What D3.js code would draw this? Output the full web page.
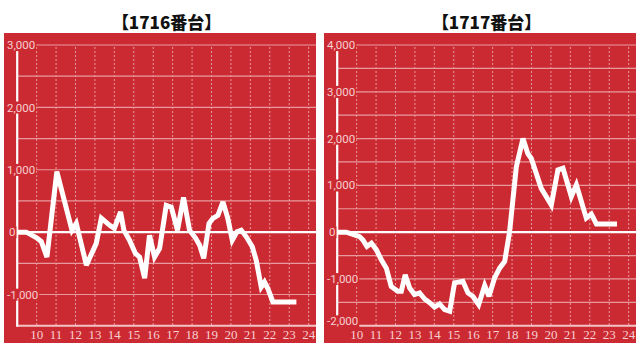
<!DOCTYPE html>
<html><head><meta charset="utf-8">
<script src="https://cdn.jsdelivr.net/npm/d3@7"></script>
<style>
html,body{margin:0;padding:0;background:#fff;}
svg{display:block;}
</style></head>
<body>
<svg id="c" width="640" height="352"></svg>
<script>
// ---- data ----
const xTickHours = [10,11,12,13,14,15,16,17,18,19,20,21,22,23,24];

const titles = ["【1716番台】", "【1717番台】"];

const times1716 = [9.0,9.47,10.0,10.24,10.53,11.04,11.82,12.04,12.56,13.07,13.33,13.76,14.0,14.32,14.49,14.78,15.08,15.3,15.56,15.81,16.07,16.33,16.67,16.93,17.25,17.56,17.87,18.18,18.39,18.6,18.87,19.07,19.33,19.59,19.84,20.07,20.31,20.53,20.79,21.1,21.3,21.56,21.73,21.9,22.16,23.37];
const values1716 = [0,0,-90,-150,-400,970,30,140,-530,-180,225,110,60,325,30,-130,-340,-400,-740,-50,-400,-260,430,400,30,555,30,-95,-210,-420,140,220,270,485,220,-130,5,30,-75,-235,-450,-880,-800,-905,-1120,-1120];

const times1717 = [9.0,9.47,10.15,10.32,10.53,10.76,11.01,11.27,11.53,11.78,12.12,12.3,12.5,12.73,12.98,13.24,13.5,13.76,14.01,14.27,14.53,14.79,15.04,15.47,15.73,15.98,16.28,16.59,16.81,17.1,17.36,17.62,17.87,18.22,18.56,18.81,18.99,19.5,19.76,20.02,20.36,20.62,21.05,21.31,21.82,22.08,22.34,23.4];
const values1717 = [0,0,-95,-165,-305,-235,-375,-590,-770,-1160,-1265,-1265,-910,-1195,-1335,-1300,-1430,-1510,-1605,-1535,-1655,-1690,-1085,-1050,-1300,-1370,-1550,-1140,-1370,-980,-770,-625,0,1400,2000,1680,1575,935,760,580,1330,1365,760,1010,300,385,175,175];

const yLabelTicks1716 = [-1000,0,1000,2000,3000];
const yGrid1716 = [-1000,-500,500,1000,1500,2000,2500,3000];
const yDomain1716 = [-1500,3000];

const yLabelTicks1717 = [-2000,-1000,0,1000,2000,3000,4000];
const yGrid1717 = [-1500,-1000,-500,500,1000,1500,2000,2500,3000,3500,4000];
const yDomain1717 = [-2000,4000];

// ---- drawing ----
const svg = d3.select("#c");
const RED = "#cc2a32", GRID = "#e79a9e", LBL = "#f6cfd1";
const fmt = v => d3.format(",")(v).replace("\u2212","-");

function panel(ox, title, times, values, yDomain, yLabels, yGrid) {
  const g = svg.append("g").attr("transform", `translate(${ox},0)`);
  const bgL = 4, bgR = 316, bgT = 33, bgB = 343;
  const axX = 17.2, plotR = 316, top = 45, bot = 325.7;
  g.append("rect").attr("x", bgL).attr("y", bgT).attr("width", bgR-bgL).attr("height", bgB-bgT).attr("fill", RED);

  const x = d3.scaleLinear().domain([9, 24]).range([axX, axX + 15*19.43]);
  const y = d3.scaleLinear().domain(yDomain).range([bot, top]);

  g.append("text").attr("x", (axX+plotR)/2).attr("y", 28.5).attr("text-anchor","middle")
   .attr("font-family","'Noto Sans CJK JP','Noto Sans',sans-serif").attr("font-weight","900")
   .attr("font-size",17).attr("fill","#111").text(title);

  // horizontal grid
  g.selectAll(".hg").data(yGrid).enter().append("line")
   .attr("x1", axX).attr("x2", plotR).attr("y1", d=>y(d)).attr("y2", d=>y(d))
   .attr("stroke", GRID).attr("stroke-width", 1.2);
  // vertical dotted grid
  g.selectAll(".vg").data(xTickHours).enter().append("line")
   .attr("x1", d=>x(d)).attr("x2", d=>x(d)).attr("y1", top+2).attr("y2", bot)
   .attr("stroke", GRID).attr("stroke-width", 1).attr("stroke-dasharray","2,2");
  // bottom axis
  g.append("line").attr("x1", axX).attr("x2", plotR).attr("y1", bot).attr("y2", bot)
   .attr("stroke", "#f3c3c5").attr("stroke-width", 2);
  // zero line
  g.append("line").attr("x1", axX).attr("x2", plotR).attr("y1", y(0)).attr("y2", y(0))
   .attr("stroke", "#fff").attr("stroke-width", 2.2);
  // y axis line
  g.append("line").attr("x1", axX).attr("x2", axX).attr("y1", top).attr("y2", bot+1)
   .attr("stroke", "#fff").attr("stroke-width", 2.2);

  // y labels with red backing
  yLabels.forEach(v => {
    let cy = Math.max(top, Math.min(bot - 4.5, y(v)));
    const t = g.append("text").attr("x", v === 0 ? 9 : 7).attr("y", cy).attr("dy","0.36em")
      .attr("font-family","Roboto,'Liberation Sans',sans-serif").attr("font-size",11.5)
      .attr("fill", LBL).text(fmt(v));
    const bb = t.node().getBBox();
    g.insert("rect", () => t.node()).attr("x", bb.x-1).attr("y", bb.y+1).attr("width", bb.width+2)
      .attr("height", bb.height-2).attr("fill", RED);
  });

  // x labels
  g.selectAll(".xl").data(xTickHours).enter().append("text")
   .attr("x", d=>x(d)).attr("y", 334.5).attr("dy","0.35em").attr("text-anchor","middle")
   .attr("font-family","'Liberation Serif','DejaVu Serif',serif").attr("font-size",13)
   .attr("fill", LBL).text(d=>d);

  // series line
  const pts = times.map((t,i)=>[t, values[i]]);
  g.append("path").datum(pts)
   .attr("d", d3.line().x(d=>x(d[0])).y(d=>y(d[1])))
   .attr("fill","none").attr("stroke","#fff").attr("stroke-width",5)
   .attr("stroke-linejoin","miter").attr("stroke-miterlimit",3);
}

panel(0, titles[0], times1716, values1716, yDomain1716, yLabelTicks1716, yGrid1716);
panel(320, titles[1], times1717, values1717, yDomain1717, yLabelTicks1717, yGrid1717);
</script>
</body></html>
